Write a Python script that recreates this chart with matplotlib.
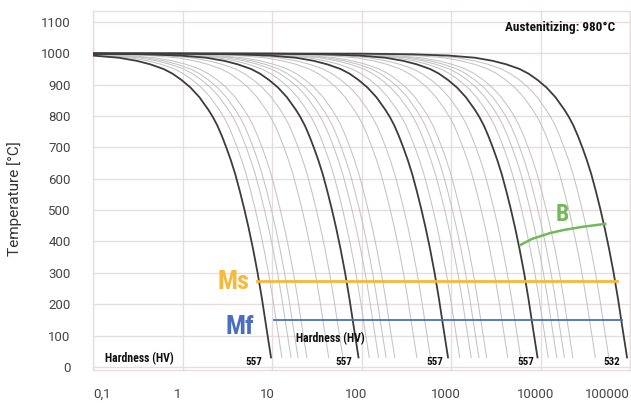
import numpy as np
import matplotlib
matplotlib.use("Agg")
import matplotlib.pyplot as plt
from matplotlib.transforms import ScaledTranslation

# ---------------- data ----------------
# cooling-curve shape: log10 offset (decades before curve end) vs temperature
PROFILE_DEC = [0.0, 0.03, 0.06, 0.10, 0.15, 0.20, 0.25, 0.30, 0.35, 0.40,
               0.45, 0.50, 0.55, 0.60, 0.65, 0.70, 0.80, 0.90, 1.00, 1.10,
               1.20, 1.35, 1.50, 1.70, 2.00, 2.40, 3.00, 7.00]
PROFILE_T = [30, 85, 140, 215, 300, 375, 443, 505, 562, 615,
             660, 700, 737, 770, 797, 820, 860, 891, 915, 935,
             950, 965, 976, 986, 993, 997, 999, 1000]

# end times (s) of the dark (labelled) cooling curves
DARK_END = [9.75, 92.6, 926, 9260, 92700]
DARK_LABELS = ["557", "557", "557", "557", "532"]
DARK_LABEL_X = [6.3, 63, 661, 6800, 63000]

# end times (s) of the light cooling curves
GRAY_END = [12.9, 16.3, 19.5, 24.5, 43.0, 62.0,
            122, 155, 188, 235, 415, 590,
            1250, 1680, 2050, 2500, 4300, 6000,
            12200, 15200, 18500, 23000, 41000, 58000]

# Ms / Mf lines
MS_T = 274
MS_X = [6.8, 72000]
MF_T = 150
MF_X = [10.5, 81000]

# bainite start line
B_X = [6000, 8000, 12900, 18500, 30000, 52800]
B_T = [389, 408, 427, 437, 447, 456]

X_TICKS = [0.1, 1, 10, 100, 1000, 10000, 100000]
X_LABELS = ["0,1", "1", "10", "100", "1000", "10000", "100000"]
Y_TICKS = [0, 100, 200, 300, 400, 500, 600, 700, 800, 900, 1000, 1100]

# ---------------- figure ----------------
W, H = 631, 403
fig = plt.figure(figsize=(W / 100, H / 100), dpi=100)
ax = fig.add_axes([93 / W, (H - 370) / H, (630 - 93) / W, (370 - 11) / H])

GRID = "#e6dede"
ax.set_xscale("log")
ax.set_xlim(0.1, 100000)
ax.set_ylim(-10, 1135)

prof_d = np.array(PROFILE_DEC)
prof_t = np.array(PROFILE_T)

for te in GRAY_END:
    ax.plot(te * 10 ** (-prof_d), prof_t, color="#c4c4c4", lw=0.75, zorder=2)
for te in DARK_END:
    ax.plot(te * 10 ** (-prof_d), prof_t, color="#3c3c3c", lw=1.3, zorder=3)

# Ms, Mf, B
ax.plot(MS_X, [MS_T, MS_T], color="#f6b93b", lw=2.0, zorder=4)
ax.plot(MF_X, [MF_T, MF_T], color="#4a6fc0", lw=1.3, zorder=4)
ax.plot(B_X, B_T, color="#72b957", lw=1.8, zorder=4)

NARROW = ["Liberation Sans Narrow", "Roboto Condensed", "DejaVu Sans"]
ax.text(5.6, 271, "Ms", color="#f6b93b", fontsize=19, fontweight="bold",
        family=NARROW, ha="right", va="center", zorder=5)
ax.text(6.3, 128, "Mf", color="#4a6fc0", fontsize=19, fontweight="bold",
        family=NARROW, ha="right", va="center", zorder=5)
ax.text(17500, 485, "B", color="#72b957", fontsize=17, fontweight="bold",
        family=NARROW, ha="center", va="center", zorder=5)

ax.text(0.333, 25, "Hardness (HV)", color="#111111", fontsize=8.5,
        fontweight="bold", family=NARROW, ha="center", va="center", zorder=5)
ax.text(45.3, 89, "Hardness (HV)", color="#111111", fontsize=8.5,
        fontweight="bold", family=NARROW, ha="center", va="center", zorder=5)
for lx, lab in zip(DARK_LABEL_X, DARK_LABELS):
    ax.text(lx, 16, lab, color="#111111", fontsize=8, fontweight="bold",
            family=NARROW, ha="center", va="center", zorder=5)

ax.text(68000, 1081, "Austenitizing: 980°C", color="#111111", fontsize=9.5,
        fontweight="bold", family=NARROW, ha="right", va="center", zorder=5)

# grid / spines
ax.set_xticks(X_TICKS)
ax.set_xticklabels(X_LABELS)
ax.xaxis.set_minor_locator(matplotlib.ticker.NullLocator())
ax.set_yticks(Y_TICKS)
ax.grid(True, color=GRID, lw=1.0, zorder=0)
ax.set_axisbelow(True)
for s in ax.spines.values():
    s.set_color(GRID)
    s.set_linewidth(1.0)

ax.tick_params(axis="both", length=0, labelsize=9.5, labelcolor="#444444")
ax.tick_params(axis="x", pad=13)
ax.tick_params(axis="y", pad=16)
for lab in ax.get_xticklabels() + ax.get_yticklabels():
    lab.set_family(["Roboto", "DejaVu Sans"])

xl = ax.get_xticklabels()
xl[0].set_ha("left")
xl[-1].set_ha("right")
for lab in xl[1:-1]:
    lab.set_transform(lab.get_transform() + ScaledTranslation(-5 / 100, 0, fig.dpi_scale_trans))

ax.set_ylabel("Temperature [°C]", fontsize=11, color="#333333",
              family=["Roboto", "DejaVu Sans"])
ax.yaxis.set_label_coords((22 - 93) / (630 - 93), (370 - 199) / (370 - 11))

fig.savefig("out.png", dpi=100)
